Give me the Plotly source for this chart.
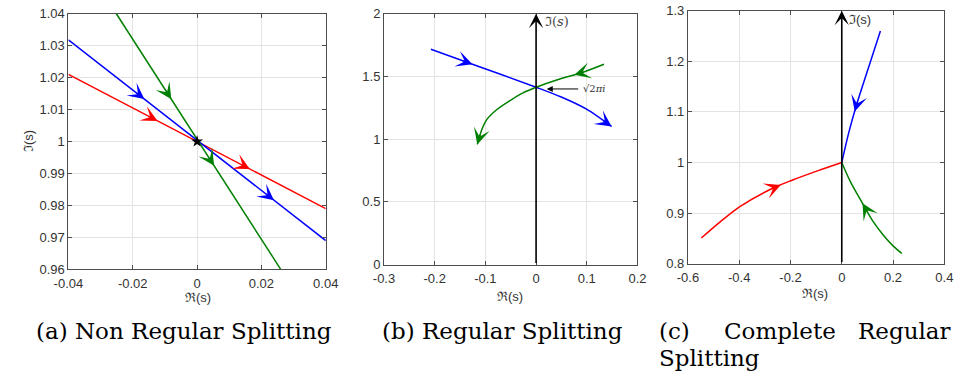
import numpy as np
import plotly.graph_objects as go

W, H = 968, 383

# ---------------- (a) Non regular splitting: three straight trajectories ----------------
a_red_x = [-0.04, 0.04]
a_red_y = [1.021, 0.979]
a_blue_x = [-0.04, 0.04]
a_blue_y = [1.0318, 0.969]
a_green_x = [-0.0251, 0.026]
a_green_y = [1.04, 0.96]
a_center = ([0.0], [1.0])
a_red_arrows = [-0.0123, 0.0164]
a_blue_arrows = [-0.0164, 0.0239]
a_green_arrows = [-0.008, 0.0053]

a_xticks = [-0.04, -0.02, 0, 0.02, 0.04]
a_xtext = ["-0.04", "-0.02", "0", "0.02", "0.04"]
a_yticks = [0.96, 0.97, 0.98, 0.99, 1.0, 1.01, 1.02, 1.03, 1.04]
a_ytext = ["0.96", "0.97", "0.98", "0.99", "1", "1.01", "1.02", "1.03", "1.04"]

# ---------------- (b) Regular splitting ----------------
b_blue_x = [-0.2075, -0.1255, 0.0, 0.0498, 0.0996, 0.149]
b_blue_y = [1.7165, 1.597, 1.414, 1.336, 1.239, 1.101]
b_green_x = [0.134, 0.0881, 0.0498, 0.0, -0.0268, -0.0523, -0.0778, -0.097, -0.1066, -0.113, -0.116]
b_green_y = [1.597, 1.527, 1.484, 1.414, 1.367, 1.305, 1.234, 1.157, 1.080, 1.0, 0.958]
b_blue_arrows = [-0.1255, 0.149]
b_green_arrows = [0.0755, -0.116]
b_root = (0.0, 1.414)
b_root_label = "√2<i>πi</i>"

b_xticks = [-0.3, -0.2, -0.1, 0, 0.1, 0.2]
b_xtext = ["-0.3", "-0.2", "-0.1", "0", "0.1", "0.2"]
b_yticks = [0, 0.5, 1, 1.5, 2]
b_ytext = ["0", "0.5", "1", "1.5", "2"]

# ---------------- (c) Complete regular splitting ----------------
c_red_x = [-0.548, -0.472, -0.3975, -0.2697, -0.1937, -0.0924, 0.0]
c_red_y = [0.8505, 0.8835, 0.9127, 0.949, 0.9648, 0.9838, 1.0]
c_blue_x = [0.1507, 0.1038, 0.0595, 0.0278, 0.0]
c_blue_y = [1.26, 1.187, 1.117, 1.06, 1.0]
c_green_x = [0.234, 0.2, 0.1608, 0.12, 0.08, 0.034, 0.0]
c_green_y = [0.82, 0.835, 0.857, 0.885, 0.92, 0.9616, 1.0]
c_red_arrows = [-0.238]
c_blue_arrows = [0.0506]
c_green_arrows = [0.081]

c_xticks = [-0.6, -0.4, -0.2, 0, 0.2, 0.4]
c_xtext = ["-0.6", "-0.4", "-0.2", "0", "0.2", "0.4"]
c_yticks = [0.8, 0.9, 1.0, 1.1, 1.2, 1.3]
c_ytext = ["0.8", "0.9", "1", "1.1", "1.2", "1.3"]

captions = ["(a) Non Regular Splitting", "(b) Regular Splitting"]

RED, BLUE, GREEN, BLACK = "#ff0000", "#0000ff", "#008000", "#000000"
AXC = "#4d4d4d"
GRID = "#e3e3e3"
TICKFONT = dict(family="Liberation Sans, Arial, sans-serif", size=13, color="#333333")

# plot boxes in pixels: left, right, top, bottom
panels = {
    "a": dict(box=(55, 320, 7, 273), xr=(-0.04, 0.04), yr=(0.96, 1.04), xa="x", ya="y"),
    "b": dict(box=(380, 641, 7, 268), xr=(-0.3, 0.2), yr=(0.0, 2.0), xa="x2", ya="y2"),
    "c": dict(box=(693, 957, 4, 267), xr=(-0.6, 0.4), yr=(0.8, 1.3), xa="x3", ya="y3"),
}


def px_scale(p):
    l, r, t, b = p["box"]
    return (r - l) / (p["xr"][1] - p["xr"][0]), (b - t) / (p["yr"][1] - p["yr"][0])


def flow_arrow(p, xs, ys, x_tip, color, back=12):
    """Arrowhead on a polyline at abscissa x_tip, pointing in the order of the points."""
    sx, sy = px_scale(p)
    xs = np.asarray(xs, float)
    ys = np.asarray(ys, float)
    idx = len(xs) - 2
    for i in range(len(xs) - 1):
        lo, hi = min(xs[i], xs[i + 1]), max(xs[i], xs[i + 1])
        if lo - 1e-12 <= x_tip <= hi + 1e-12:
            idx = i
            break
    dx, dy = xs[idx + 1] - xs[idx], ys[idx + 1] - ys[idx]
    t = (x_tip - xs[idx]) / dx if dx != 0 else 1.0
    ty = ys[idx] + t * dy
    L = np.hypot(dx * sx, dy * sy)
    return dict(
        x=x_tip, y=ty, ax=x_tip - dx * back / L, ay=ty - dy * back / L,
        xref=p["xa"], yref=p["ya"], axref=p["xa"], ayref=p["ya"],
        text="", showarrow=True, arrowhead=3, arrowsize=1.8, arrowwidth=1.5,
        arrowcolor=color, standoff=0,
    )


fig = go.Figure()


def line(p, xs, ys, color, width=1.5, smooth=False):
    shape = dict(shape="spline", smoothing=0.8) if smooth else {}
    fig.add_trace(go.Scatter(x=xs, y=ys, mode="lines", line=dict(color=color, width=width, **shape),
                             xaxis=p["xa"], yaxis=p["ya"], showlegend=False, hoverinfo="skip"))


pa, pb, pc = panels["a"], panels["b"], panels["c"]

line(pa, a_red_x, a_red_y, RED)
line(pa, a_blue_x, a_blue_y, BLUE)
line(pa, a_green_x, a_green_y, GREEN)
fig.add_trace(go.Scatter(x=a_center[0], y=a_center[1], mode="markers",
                         marker=dict(symbol="star", size=9, color=BLACK),
                         xaxis="x", yaxis="y", showlegend=False, hoverinfo="skip"))

line(pb, b_blue_x, b_blue_y, BLUE, smooth=True)
line(pb, b_green_x, b_green_y, GREEN, smooth=True)

line(pc, c_red_x, c_red_y, RED, smooth=True)
line(pc, c_blue_x, c_blue_y, BLUE, smooth=True)
line(pc, c_green_x, c_green_y, GREEN, smooth=True)

ann = []
for xt in a_red_arrows:
    ann.append(flow_arrow(pa, a_red_x, a_red_y, xt, RED))
for xt in a_blue_arrows:
    ann.append(flow_arrow(pa, a_blue_x, a_blue_y, xt, BLUE))
for xt in a_green_arrows:
    ann.append(flow_arrow(pa, a_green_x, a_green_y, xt, GREEN))
for xt in b_blue_arrows:
    ann.append(flow_arrow(pb, b_blue_x, b_blue_y, xt, BLUE))
for xt in b_green_arrows:
    ann.append(flow_arrow(pb, b_green_x, b_green_y, xt, GREEN))
for xt in c_red_arrows:
    ann.append(flow_arrow(pc, c_red_x, c_red_y, xt, RED))
for xt in c_blue_arrows:
    ann.append(flow_arrow(pc, c_blue_x, c_blue_y, xt, BLUE))
for xt in c_green_arrows:
    ann.append(flow_arrow(pc, c_green_x, c_green_y, xt, GREEN))

# imaginary axis drawn as an arrow in (b) and (c)
for p in (pb, pc):
    ann.append(dict(x=0, y=p["yr"][1], ax=0, ay=p["yr"][0], xref=p["xa"], yref=p["ya"],
                    axref=p["xa"], ayref=p["ya"], text="", showarrow=True, arrowhead=3,
                    arrowsize=1.5, arrowwidth=1.6, arrowcolor=BLACK, standoff=0))

ann.append(dict(x=0.013, y=1.936, xref="x2", yref="y2", xanchor="left", yanchor="middle",
                text="ℑ(<i>s</i>)", showarrow=False,
                font=dict(family="DejaVu Serif, serif", size=13, color="#444444")))
ann.append(dict(x=0.022, y=1.283, xref="x3", yref="y3", xanchor="left", yanchor="middle",
                text="ℑ(s)", showarrow=False, font=TICKFONT))

# root marker label in (b)
ann.append(dict(x=b_root[0] + 0.021, y=b_root[1] - 0.014, ax=b_root[0] + 0.086, ay=b_root[1] - 0.014,
                xref="x2", yref="y2", axref="x2", ayref="y2", text="", showarrow=True,
                arrowhead=2, arrowsize=1.2, arrowwidth=1.0, arrowcolor=BLACK, standoff=0))
ann.append(dict(x=b_root[0] + 0.089, y=b_root[1] - 0.014, xref="x2", yref="y2",
                xanchor="left", yanchor="middle", text=b_root_label, showarrow=False,
                font=dict(family="DejaVu Serif, serif", size=10, color="#333333")))


def P(xpx, ypx):
    return xpx / W, 1 - ypx / H


# axis titles
for (xp, yp) in [(188, 302), (510, 301), (824, 298)]:
    x0, y0 = P(xp, yp)
    ann.append(dict(x=x0, y=y0, xref="paper", yref="paper", text="ℜ(s)", showarrow=False,
                    xanchor="center", yanchor="middle", font=TICKFONT))
x0, y0 = P(14, 140)
ann.append(dict(x=x0, y=y0, xref="paper", yref="paper", text="ℑ(s)", showarrow=False,
                textangle=-90, xanchor="center", yanchor="middle", font=TICKFONT))

# captions
CAP = dict(family="DejaVu Serif, serif", size=23, color="#000000")
for text, xp in [(captions[0], 20), (captions[1], 376)]:
    x0, y0 = P(xp, 337)
    ann.append(dict(x=x0, y=y0, xref="paper", yref="paper", text=text, showarrow=False,
                    xanchor="left", yanchor="middle", font=CAP))
for text, xp, anc, yp in [("(c)", 661, "left", 337), ("Complete", 728, "left", 337),
                          ("Regular", 966, "right", 337), ("Splitting", 661, "left", 365)]:
    x0, y0 = P(xp, yp)
    ann.append(dict(x=x0, y=y0, xref="paper", yref="paper", text=text, showarrow=False,
                    xanchor=anc, yanchor="middle", font=CAP))


def axis(p, ticks, text, rng, is_x):
    l, r, t, b = p["box"]
    dom = [l / W, r / W] if is_x else [1 - b / H, 1 - t / H]
    pad = (rng[1] - rng[0]) * 1e-6
    d = dict(domain=dom, range=[rng[0] - pad, rng[1] + pad], tickvals=ticks, ticktext=text,
             anchor=p["ya"] if is_x else p["xa"],
             showgrid=True, gridcolor=GRID, gridwidth=1, zeroline=False,
             showline=True, linecolor=AXC, linewidth=1, mirror="ticks",
             ticks="inside", ticklen=4, tickcolor=AXC, tickfont=TICKFONT,
             ticklabeloverflow="allow")
    if is_x:
        d["ticklabelstandoff"] = 2
    return d


fig.update_layout(
    width=W, height=H, margin=dict(l=0, r=0, t=0, b=0),
    paper_bgcolor="white", plot_bgcolor="white",
    xaxis=axis(pa, a_xticks, a_xtext, pa["xr"], True),
    yaxis=axis(pa, a_yticks, a_ytext, pa["yr"], False),
    xaxis2=axis(pb, b_xticks, b_xtext, pb["xr"], True),
    yaxis2=axis(pb, b_yticks, b_ytext, pb["yr"], False),
    xaxis3=axis(pc, c_xticks, c_xtext, pc["xr"], True),
    yaxis3=axis(pc, c_yticks, c_ytext, pc["yr"], False),
    annotations=ann,
)

fig.write_html("out.html")
